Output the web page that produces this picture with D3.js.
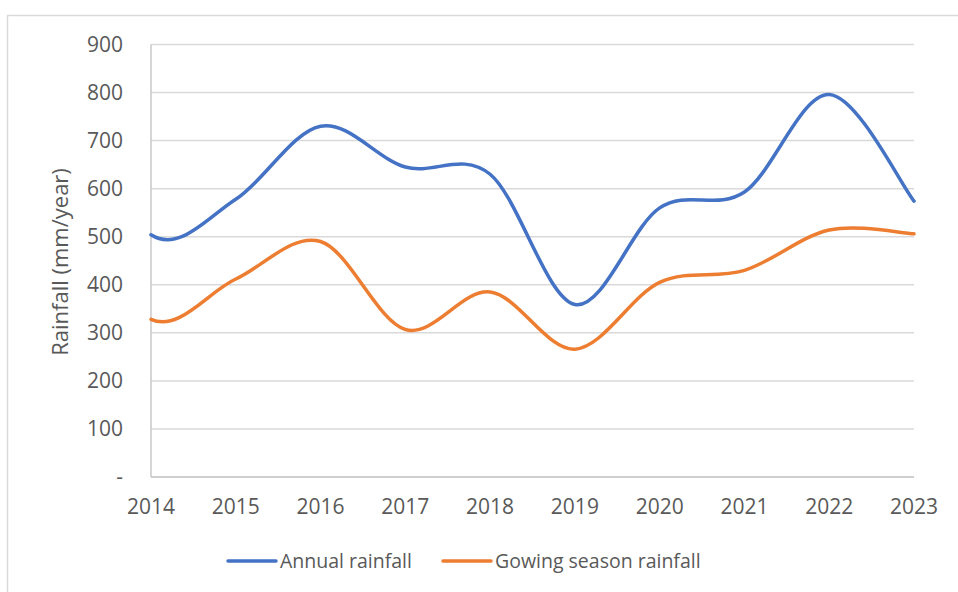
<!DOCTYPE html>
<html>
<head>
<meta charset="utf-8">
<script src="https://cdn.jsdelivr.net/npm/d3@7"></script>
<style>
  body { margin: 0; background: #fff; }
  svg { display: block; font-family: "Open Sans", sans-serif; }
</style>
</head>
<body>
<div id="chart"></div>
<script>
// data
const years = [2014, 2015, 2016, 2017, 2018, 2019, 2020, 2021, 2022, 2023];
const annualRainfall = [504, 578, 730, 645, 630, 359, 560, 593, 796, 574];
const growingRainfall = [328, 412, 490, 307, 385, 266, 405, 430, 514, 506];
const yTicks = [0, 100, 200, 300, 400, 500, 600, 700, 800, 900];
const seriesNames = ["Annual rainfall", "Gowing season rainfall"];
const seriesColors = ["#4472C4", "#ED7D31"];

const width = 958, height = 592;
const margin = { top: 44.5, right: 44, bottom: 115, left: 151 };

// smoothing close to the spreadsheet's "smoothed line"
function smoothCurve(context) {
  let pts;
  return {
    areaStart() {}, areaEnd() {},
    lineStart() { pts = []; },
    point(px, py) { pts.push([+px, +py]); },
    lineEnd() {
      const n = pts.length;
      if (!n) return;
      const tan = pts.map((p, i) => {
        if (i > 0 && i < n - 1) {
          return [(pts[i + 1][0] - pts[i - 1][0]) / 2, (pts[i + 1][1] - pts[i - 1][1]) / 2];
        }
        if (i === n - 1) return [(p[0] - pts[i - 1][0]) / 2, (p[1] - pts[i - 1][1]) / 2];
        return null;
      });
      if (n > 2) {
        // the start of the line hooks a little, as in the original
        tan[0] = [pts[1][0] - pts[0][0], -tan[1][1]];
      } else if (n === 2) {
        tan[0] = [(pts[1][0] - pts[0][0]) / 2, (pts[1][1] - pts[0][1]) / 2];
      }
      context.moveTo(pts[0][0], pts[0][1]);
      for (let i = 0; i < n - 1; i++) {
        const a = pts[i], b = pts[i + 1];
        context.bezierCurveTo(
          a[0] + tan[i][0] / 3, a[1] + tan[i][1] / 3,
          b[0] - tan[i + 1][0] / 3, b[1] - tan[i + 1][1] / 3,
          b[0], b[1]);
      }
    }
  };
}

const svg = d3.select("#chart")
  .append("svg")
  .attr("width", width)
  .attr("height", height);

// outer frame (only left and top edges show)
svg.append("path")
  .attr("d", "M7.5,600 V15.5 H970")
  .attr("fill", "none")
  .attr("stroke", "#d9d9d9")
  .attr("stroke-width", 1.5);

const x = d3.scalePoint()
  .domain(years)
  .range([margin.left, width - margin.right]);

const y = d3.scaleLinear()
  .domain([0, 900])
  .range([height - margin.bottom, margin.top]);

// gridlines
svg.append("g")
  .selectAll("line")
  .data(yTicks.filter(d => d > 0))
  .enter()
  .append("line")
  .attr("x1", margin.left)
  .attr("x2", width - margin.right)
  .attr("y1", d => y(d))
  .attr("y2", d => y(d))
  .attr("stroke", "#d9d9d9")
  .attr("stroke-width", 1.5);

// axis lines
svg.append("line")
  .attr("x1", margin.left).attr("x2", margin.left)
  .attr("y1", y(900)).attr("y2", y(0))
  .attr("stroke", "#c8c8c8").attr("stroke-width", 1.5);
svg.append("line")
  .attr("x1", margin.left).attr("x2", width - margin.right)
  .attr("y1", y(0)).attr("y2", y(0))
  .attr("stroke", "#bfbfbf").attr("stroke-width", 1.5);

// y tick labels
svg.append("g")
  .selectAll("text")
  .data(yTicks)
  .enter()
  .append("text")
  .attr("x", 123)
  .attr("y", d => y(d))
  .attr("dy", "0.35em")
  .attr("text-anchor", "end")
  .attr("fill", "#595959")
  .style("font-size", "21px")
  .text(d => d === 0 ? "-" : d);

// x tick labels
svg.append("g")
  .selectAll("text")
  .data(years)
  .enter()
  .append("text")
  .attr("x", d => x(d))
  .attr("y", 507)
  .attr("dy", "0.35em")
  .attr("text-anchor", "middle")
  .attr("fill", "#595959")
  .style("font-size", "21px")
  .text(d => d);

// y title
svg.append("text")
  .attr("transform", "translate(60,262) rotate(-90)")
  .attr("dy", "0.35em")
  .attr("text-anchor", "middle")
  .attr("fill", "#595959")
  .style("font-size", "22px")
  .text("Rainfall (mm/year)");

// smoothed lines
const line = d3.line()
  .x((d, i) => x(years[i]))
  .y(d => y(d))
  .curve(smoothCurve);

[annualRainfall, growingRainfall].forEach((vals, i) => {
  svg.append("path")
    .datum(vals)
    .attr("d", line)
    .attr("fill", "none")
    .attr("stroke", seriesColors[i])
    .attr("stroke-width", 3.5)
    .attr("stroke-linecap", "round")
    .attr("stroke-linejoin", "round");
});

// legend
const legendX = [228, 443];
const legend = svg.append("g");
seriesNames.forEach((name, i) => {
  legend.append("line")
    .attr("x1", legendX[i]).attr("x2", legendX[i] + 48)
    .attr("y1", 561).attr("y2", 561)
    .attr("stroke", seriesColors[i])
    .attr("stroke-width", 3.5)
    .attr("stroke-linecap", "round");
  legend.append("text")
    .attr("x", legendX[i] + 52)
    .attr("y", 561)
    .attr("dy", "0.35em")
    .attr("fill", "#595959")
    .style("font-size", "19.5px")
    .text(name);
});
</script>
</body>
</html>
